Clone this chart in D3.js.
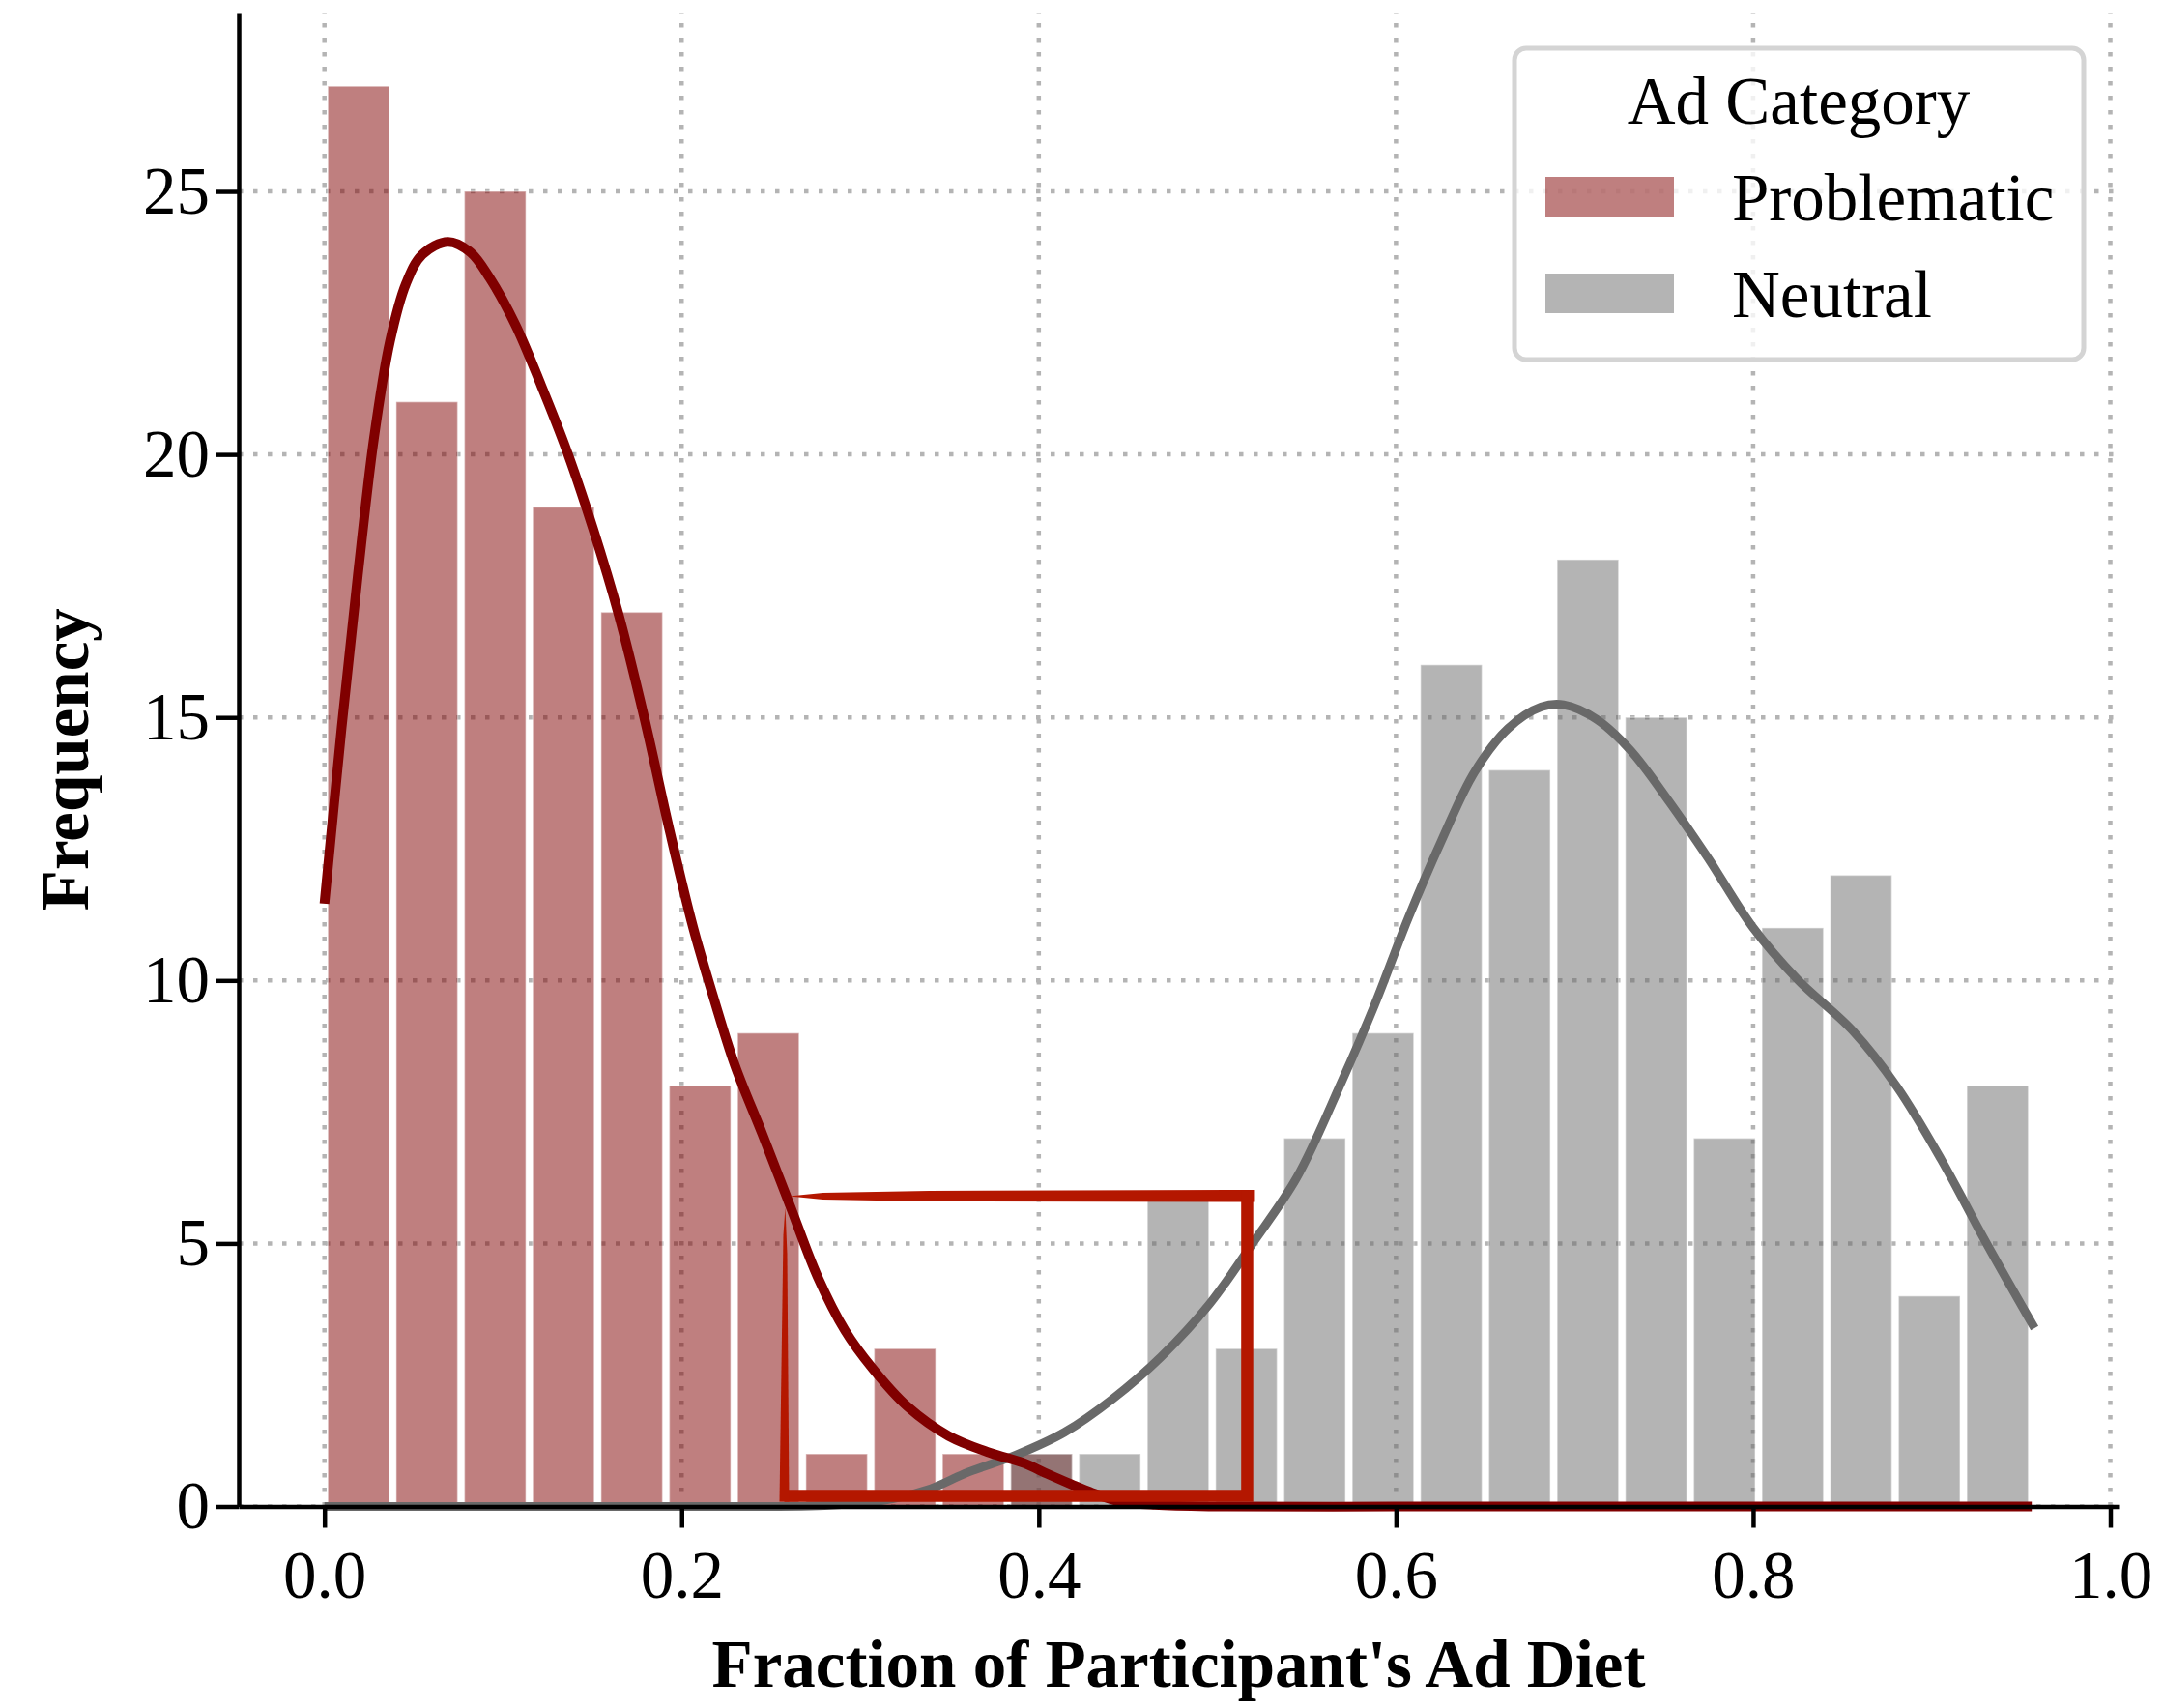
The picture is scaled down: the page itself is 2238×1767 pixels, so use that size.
<!DOCTYPE html>
<html lang="en">
<head>
<meta charset="UTF-8">
<title>Ad Diet Histogram</title>
<script src="https://d3js.org/d3.v7.min.js"></script>
<style>
  body { margin: 0; background: #fff; }
  svg { display: block; font-family: "Liberation Serif", "Times New Roman", serif; }
</style>
</head>
<body>
<svg id="chart"></svg>
<script>
const width = 2238, height = 1767;

// histogram bins (shared by both categories)
const binMin = 0, binMax = 0.956, binCount = 25;
const problematicCounts = [27, 21, 25, 19, 17, 8, 9, 1, 3, 1, 1, 0, 0, 0, 0, 0, 0, 0, 0, 0, 0, 0, 0, 0, 0];
const neutralCounts     = [0, 0, 0, 0, 0, 0, 0, 0, 0, 0, 1, 1, 6, 3, 7, 9, 16, 14, 18, 15, 7, 11, 12, 4, 8];

// kde curves (scaled to counts)
const problematicKdeX = [0, 0.0096, 0.0187, 0.0277, 0.0367, 0.0457, 0.0548, 0.0692, 0.0818, 0.0926, 0.107, 0.1215, 0.1359, 0.1503, 0.1648, 0.1792, 0.1936, 0.2065, 0.2181, 0.2297, 0.2452, 0.2606, 0.2761, 0.2916, 0.307, 0.3264, 0.3495, 0.3727, 0.392, 0.4048, 0.4183, 0.43, 0.445, 0.465, 0.5, 0.6, 0.7, 0.8, 0.9, 0.956];
const problematicKdeY = [11.46, 14.8, 17.7, 20.3, 22.15, 23.25, 23.8, 24.04, 23.84, 23.35, 22.46, 21.3, 20.05, 18.6, 16.95, 14.98, 12.8, 11.0, 9.65, 8.4, 7.08, 5.73, 4.37, 3.34, 2.62, 1.9, 1.34, 1.02, 0.82, 0.62, 0.42, 0.26, 0.1, 0.03, 0, 0, 0, 0, 0, 0];
const neutralKdeX = [0, 0.1, 0.2, 0.28, 0.31, 0.3372, 0.3603, 0.3874, 0.4144, 0.4415, 0.4686, 0.4956, 0.5197, 0.5446, 0.5695, 0.5881, 0.6068, 0.6255, 0.6441, 0.6628, 0.6814, 0.6939, 0.7126, 0.7312, 0.753, 0.7747, 0.7996, 0.8245, 0.8556, 0.8805, 0.9054, 0.9302, 0.9576];
const neutralKdeY = [0, 0, 0, 0.02, 0.1, 0.31, 0.65, 0.98, 1.41, 2.05, 2.85, 3.85, 5.0, 6.26, 8.07, 9.54, 11.18, 12.66, 13.97, 14.79, 15.2, 15.24, 14.96, 14.38, 13.4, 12.33, 11.02, 10.03, 9.05, 7.98, 6.59, 5.03, 3.39];

const xTicks = [0, 0.2, 0.4, 0.6, 0.8, 1.0];
const yTicks = [0, 5, 10, 15, 20, 25];
const categories = ["Problematic", "Neutral"];
const barColors = {Problematic: "#800000", Neutral: "#696969"};

// hand drawn highlight box (data units)
const boxX = [0.2575, 0.5167];
const boxY = [0.2, 5.9];

const svg = d3.select("#chart")
    .attr("width", width)
    .attr("height", height);

const x = d3.scaleLinear().domain([-0.048, 1.0046]).range([247, 2192]);
const y = d3.scaleLinear().domain([0, 28.4]).range([1558.5, 13]);

const binW = (binMax - binMin) / binCount;

// grid
const grid = svg.append("g");
grid.selectAll("line.gx").data(xTicks).enter().append("line")
    .attr("x1", d => x(d)).attr("x2", d => x(d))
    .attr("y1", y.range()[0]).attr("y2", y.range()[1]);
grid.selectAll("line.gy").data(yTicks).enter().append("line")
    .attr("x1", x.range()[0]).attr("x2", x.range()[1])
    .attr("y1", d => y(d)).attr("y2", d => y(d));
grid.selectAll("line")
    .attr("stroke", "#b4b4b4")
    .attr("stroke-width", 4.5)
    .attr("stroke-dasharray", "4.5,10.5");

// bars
const series = [
    {name: "Problematic", counts: problematicCounts},
    {name: "Neutral", counts: neutralCounts}
];
series.forEach(s => {
    svg.append("g").selectAll("rect")
        .data(s.counts.map((c, i) => ({i, c})).filter(d => d.c > 0))
        .enter().append("rect")
        .attr("x", d => x(binMin + (d.i + 0.05) * binW))
        .attr("width", d => x(binMin + (d.i + 0.95) * binW) - x(binMin + (d.i + 0.05) * binW))
        .attr("y", d => y(d.c))
        .attr("height", d => y(0) - y(d.c))
        .attr("fill", barColors[s.name])
        .attr("fill-opacity", 0.5)
        .attr("stroke", "#fff")
        .attr("stroke-opacity", 0.4)
        .attr("stroke-width", 1.5);
});

// kde lines
const line = d3.line().x(d => x(d[0])).y(d => y(d[1])).curve(d3.curveCatmullRom.alpha(0.5));
svg.append("path")
    .datum(neutralKdeX.map((v, i) => [v, neutralKdeY[i]]))
    .attr("d", line)
    .attr("fill", "none").attr("stroke", "#696969").attr("stroke-width", 9)
    .attr("stroke-linejoin", "round");
svg.append("path")
    .datum(problematicKdeX.map((v, i) => [v, problematicKdeY[i]]))
    .attr("d", line)
    .attr("fill", "none").attr("stroke", "#800000").attr("stroke-width", 10)
    .attr("stroke-linejoin", "round");

// axes
const xAxis = svg.append("g")
    .attr("transform", `translate(0,${y(0)})`)
    .call(d3.axisBottom(x).tickValues(xTicks).tickFormat(d3.format(".1f"))
        .tickSize(22).tickSizeOuter(0).tickPadding(24));
const yAxis = svg.append("g")
    .attr("transform", `translate(${x.range()[0]},0)`)
    .call(d3.axisLeft(y).tickValues(yTicks).tickFormat(d3.format("d"))
        .tickSize(24).tickSizeOuter(0).tickPadding(6));
[xAxis, yAxis].forEach(a => {
    a.select(".domain").attr("stroke", "#000").attr("stroke-width", 4.5);
    a.selectAll(".tick line").attr("stroke", "#000").attr("stroke-width", 4.5);
    a.selectAll(".tick text")
        .attr("fill", "#000")
        .style("font-family", "'Liberation Serif', serif")
        .style("font-size", "69px");
});

svg.append("text")
    .attr("x", (x.range()[0] + x.range()[1]) / 2)
    .attr("y", 1745)
    .attr("text-anchor", "middle")
    .style("font-size", "69px").style("font-weight", "bold")
    .text("Fraction of Participant's Ad Diet");
svg.append("text")
    .attr("transform", `translate(91,${(y.range()[0] + y.range()[1]) / 2}) rotate(-90)`)
    .attr("text-anchor", "middle")
    .style("font-size", "69px").style("font-weight", "bold")
    .text("Frequency");

// highlight box, drawn like a marker stroke
const bx0 = x(boxX[0]), bx1 = x(boxX[1]);
const byT = y(boxY[1]), byB = y(boxY[0]);
const boxColor = "#b41700";
const hl = svg.append("g").attr("fill", boxColor);
// top edge, tapering to a point on the left
hl.append("path").attr("d", d3.line()([
    [bx0 + 5, byT], [bx0 + 40, byT - 3.5], [bx0 + 150, byT - 5.5], [bx1 + 7, byT - 6.5],
    [bx1 + 7, byT + 6], [bx0 + 150, byT + 5.5], [bx0 + 40, byT + 3.5]
]) + "Z");
// right and bottom edges
hl.append("path")
    .attr("d", d3.line()([[bx1, byT - 6], [bx1, byB], [bx0, byB]]))
    .attr("fill", "none").attr("stroke", boxColor).attr("stroke-width", 12.5);
// left edge, thin at the top
hl.append("path").attr("d", d3.line()([
    [bx0 - 5, byB + 6], [bx0 + 5, byB + 6], [bx0 + 3, byT + 60], [bx0 + 1, byT + 12], [bx0 - 1, byT + 40]
]) + "Z");

// legend
const lg = svg.append("g");
lg.append("rect")
    .attr("x", 1567).attr("y", 50).attr("width", 589).attr("height", 322)
    .attr("rx", 12)
    .attr("fill", "#fff").attr("fill-opacity", 0.8)
    .attr("stroke", "#d4d4d4").attr("stroke-width", 5);
lg.append("text")
    .attr("x", 1861).attr("y", 128)
    .attr("text-anchor", "middle")
    .style("font-size", "69px")
    .text("Ad Category");
categories.forEach((c, i) => {
    const yy = 183 + i * 100;
    lg.append("rect")
        .attr("x", 1599).attr("y", yy).attr("width", 133).attr("height", 41)
        .attr("fill", barColors[c]).attr("fill-opacity", 0.5);
    lg.append("text")
        .attr("x", 1792).attr("y", yy + 45)
        .style("font-size", "69px")
        .text(c);
});
</script>
</body>
</html>
